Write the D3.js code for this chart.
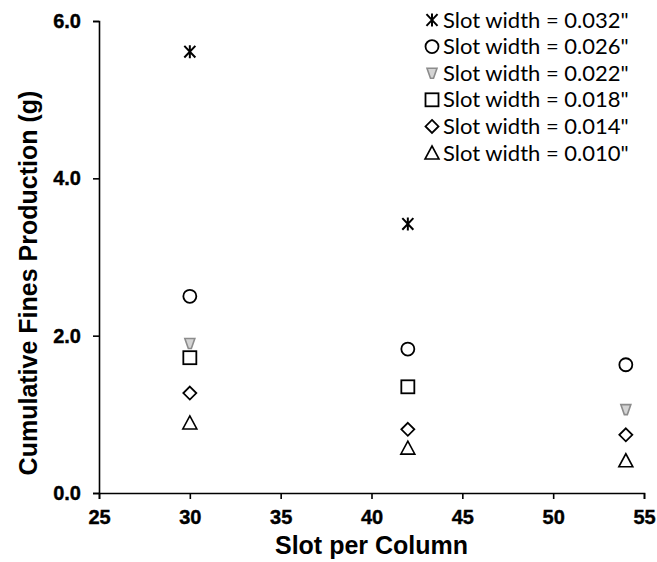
<!DOCTYPE html>
<html lang="en">
<head>
  <meta charset="UTF-8">
  <title>Cumulative Fines Production</title>
  <script src="https://d3js.org/d3.v7.min.js"></script>
  <style>
    body { margin: 0; background: #fff; }
    svg { display: block; }
    .axis-title { font-family: "Liberation Sans", Arial, sans-serif; font-weight: bold; font-size: 25px; fill: #000; }
    .legend text { font-family: Lato, "Open Sans", sans-serif; font-size: 22px; fill: #000; }
  </style>
</head>
<body>
  <svg width="657" height="562"></svg>
  <script>
    // dados
    const slotCols = [30, 42, 54];
    const w032 = [5.61, 3.42, null];
    const w026 = [2.50, 1.83, 1.63];
    const w022 = [1.90, null, 1.06];
    const w018 = [1.72, 1.35, null];
    const w014 = [1.27, 0.81, 0.74];
    const w010 = [0.89, 0.57, 0.41];
    const seriesNames = ['Slot width = 0.032"', 'Slot width = 0.026"', 'Slot width = 0.022"',
                         'Slot width = 0.018"', 'Slot width = 0.014"', 'Slot width = 0.010"'];
    const xTicks = [25, 30, 35, 40, 45, 50, 55];
    const yTicks = [0, 2, 4, 6];

    const series = [w032, w026, w022, w018, w014, w010].map((vals, i) => ({
      name: seriesNames[i], shape: ['star', 'circle', 'tridown', 'square', 'diamond', 'triangle'][i],
      points: vals.map((v, j) => ({ x: slotCols[j], y: v })).filter(p => p.y != null)
    }));

    const svg = d3.select('svg');
    const plotL = 99, plotR = 644, plotT = 21, plotB = 493;

    const x = d3.scaleLinear().domain([25, 55]).range([plotL, plotR]);
    const y = d3.scaleLinear().domain([0, 6]).range([plotB, plotT]);

    // eixos
    const gx = svg.append('g')
      .attr('transform', `translate(0,${plotB})`)
      .call(d3.axisBottom(x).tickValues(xTicks).tickSize(6).tickPadding(11));
    const gy = svg.append('g')
      .attr('transform', `translate(${plotL},0)`)
      .call(d3.axisLeft(y).tickValues(yTicks).tickFormat(d3.format('.1f')).tickSize(6).tickPadding(12));
    [gx, gy].forEach(g => {
      g.attr('font-size', null).attr('font-family', null);
      g.selectAll('path, line').attr('stroke', '#000').attr('stroke-width', 1.6);
      g.selectAll('.tick text')
        .style('font-family', '"Liberation Sans", Arial, sans-serif')
        .style('font-weight', 'bold')
        .style('font-size', '20px')
        .attr('fill', '#000')
        .attr('stroke', '#000')
        .attr('stroke-width', 0.4);
    });

    svg.append('text').attr('class', 'axis-title')
      .attr('x', (plotL + plotR) / 2).attr('y', 554)
      .attr('text-anchor', 'middle').text('Slot per Column');
    svg.append('text').attr('class', 'axis-title')
      .attr('transform', 'translate(37,283) rotate(-90)')
      .attr('text-anchor', 'middle').text('Cumulative Fines Production (g)');

    // simbolos
    function drawMark(g, shape) {
      if (shape === 'star') {
        const s = 6.5;
        g.append('path')
          .attr('d', `M0,${-s}L0,${s}M${-s * 0.85},${-s * 0.9}L${s * 0.85},${s * 0.9}M${s * 0.85},${-s * 0.9}L${-s * 0.85},${s * 0.9}`)
          .attr('stroke', '#000').attr('stroke-width', 2).attr('fill', 'none');
      } else if (shape === 'circle') {
        g.append('circle').attr('r', 6.5).attr('fill', 'none').attr('stroke', '#000').attr('stroke-width', 1.8);
      } else if (shape === 'square') {
        g.append('rect').attr('x', -6.5).attr('y', -6.5).attr('width', 13).attr('height', 13)
          .attr('fill', 'none').attr('stroke', '#000').attr('stroke-width', 1.8);
      } else if (shape === 'diamond') {
        g.append('path').attr('d', 'M0,-6.5L6.5,0L0,6.5L-6.5,0Z')
          .attr('fill', 'none').attr('stroke', '#000').attr('stroke-width', 1.8);
      } else if (shape === 'triangle') {
        g.append('path').attr('d', 'M0,-7L7,6L-7,6Z')
          .attr('fill', 'none').attr('stroke', '#000').attr('stroke-width', 1.6);
      } else if (shape === 'tridown') {
        g.append('path').attr('d', 'M-5,-5L5,-5L1.5,5L-1.5,5Z')
          .attr('fill', '#d4d4d4').attr('stroke', '#8c8c8c').attr('stroke-width', 1.6);
      }
    }

    series.forEach(s => {
      svg.append('g').selectAll('g')
        .data(s.points)
        .enter()
        .append('g')
        .attr('transform', d => `translate(${x(d.x)},${y(d.y)})`)
        .each(function () { drawMark(d3.select(this), s.shape); });
    });

    // legenda
    const legend = svg.append('g').attr('class', 'legend');
    series.forEach((s, i) => {
      const cy = 20 + i * 26.6;
      const g = legend.append('g').attr('transform', `translate(432,${cy})`);
      drawMark(g, s.shape);
      legend.append('text').attr('x', 443).attr('y', cy + 7.5).text(s.name);
    });
  </script>
</body>
</html>
